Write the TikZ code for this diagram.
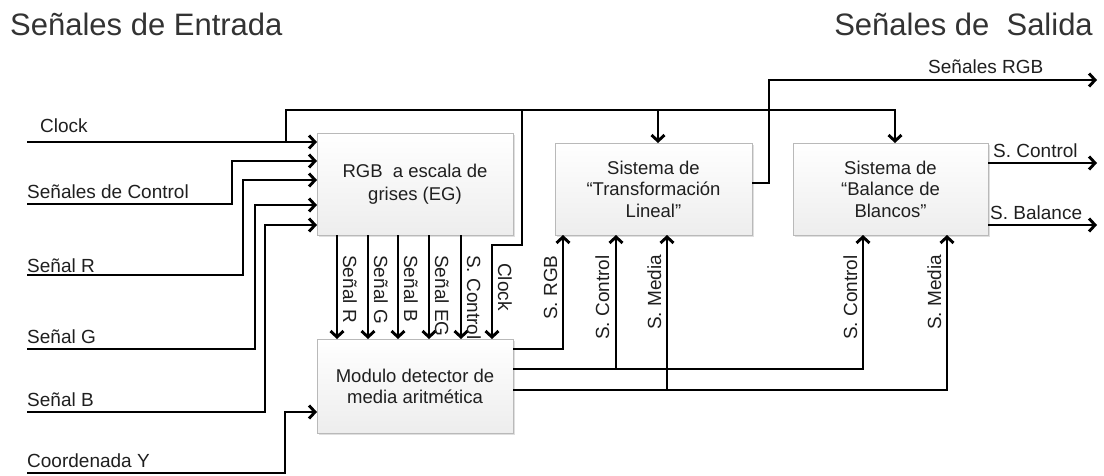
\documentclass[tikz,border=0pt]{standalone}
\usepackage{fontspec}
\setmainfont{Liberation Sans}
\usetikzlibrary{arrows.meta,shadows}
\begin{document}
\begin{tikzpicture}[x=1pt,y=-1pt,
  blk/.style={draw=gray!55, line width=0.8pt, top color=white, bottom color=gray!14,
    inner sep=0pt, outer sep=0pt, align=center, text=black!88,
    drop shadow={opacity=0.25,shadow xshift=1.5pt,shadow yshift=-1.5pt}},
  wire/.style={line width=2.9pt, black},
  arr/.style={wire, -{Straight Barb[length=6pt,width=13pt]}},
  lbl/.style={font=\fontsize{19}{21}\selectfont, text=black!88, inner sep=0pt},
  ttl/.style={font=\fontsize{31}{34}\selectfont, text=black!80, inner sep=0pt}
]
\useasboundingbox (0,0) rectangle (1104,475);

% titles
\node[ttl, anchor=base west] (tin) at (10,35) {Señales de Entrada};
\node[ttl, anchor=base east] (tout) at (1093,35) {Señales de\ \ Salida};

% blocks
\node[blk, minimum width=196pt, minimum height=102pt, font=\fontsize{18.5}{23}\selectfont] (rgb) at (415,184) {RGB\ \ a escala de\\grises (EG)};
\node[blk, minimum width=196pt, minimum height=94pt, font=\fontsize{18.5}{21}\selectfont] (mod) at (415,386) {Modulo detector de\\media aritmética};
\node[blk, minimum width=197pt, minimum height=92pt, font=\fontsize{18.5}{21.5}\selectfont] (tl) at (653.5,189) {Sistema de\\``Transformación\\Lineal''};
\node[blk, minimum width=195pt, minimum height=92pt, font=\fontsize{18.5}{21.5}\selectfont] (bb) at (890.5,189) {Sistema de\\``Balance de\\Blancos''};

% input coordinates
\coordinate (iclk) at (27,142);
\coordinate (ictl) at (27,204);
\coordinate (ir) at (27,275);
\coordinate (ig) at (27,349);
\coordinate (ib) at (27,412);
\coordinate (iy) at (27,473);

% inputs
\draw[arr] (iclk) -- (rgb.west |- iclk);
\draw[arr] (ictl) -| (232,161) -- (rgb.west |- 0,161);
\draw[arr] (ir) -| (243,180) -- (rgb.west |- 0,180);
\draw[arr] (ig) -| (255,205) -- (rgb.west |- 0,205);
\draw[arr] (ib) -| (265,225) -- (rgb.west |- 0,225);
\draw[arr] (iy) -| (285,412) -- (mod.west |- 0,412);

% clock bus
\draw[arr] (286,142) -- (286,110) -- (895,110) -- (bb.north -| 895,0);
\draw[arr] (522,110) -- (522,245) -- (492,245) -- (mod.north -| 492,0);
\draw[arr] (658,110) -- (tl.north -| 658,0);

% rgb -> mod
\foreach \x in {337,368,398,429,461}
  \draw[arr] (\x,0 |- rgb.south) -- (\x,0 |- mod.north);

% labels between rgb and mod
\node[lbl, rotate=-90, anchor=base west] (l1) at (343,255) {Señal R};
\node[lbl, rotate=-90, anchor=base west] (l2) at (374,255) {Señal G};
\node[lbl, rotate=-90, anchor=base west] (l3) at (404,255) {Señal B};
\node[lbl, rotate=-90, anchor=base west] (l4) at (435,255) {Señal EG};
\node[lbl, rotate=-90, anchor=base west] (l5) at (467,255) {S. Control};
\node[lbl, rotate=-90, anchor=base west] (l6) at (498,263) {Clock};

% module outputs
\draw[arr] (mod.east |- 0,349) -| (tl.south -| 563,0);
\draw[arr] (mod.east |- 0,369) -| (bb.south -| 863,0);
\draw[arr] (616,369) -- (tl.south -| 616,0);
\draw[arr] (mod.east |- 0,390) -| (bb.south -| 947,0);
\draw[arr] (667,390) -- (tl.south -| 667,0);

\node[lbl, rotate=90, anchor=base west] (m1) at (557,320) {S. RGB};
\node[lbl, rotate=90, anchor=base west] (m2) at (609,340) {S. Control};
\node[lbl, rotate=90, anchor=base west] (m3) at (661,330) {S. Media};
\node[lbl, rotate=90, anchor=base west] (m4) at (857,340) {S. Control};
\node[lbl, rotate=90, anchor=base west] (m5) at (941,330) {S. Media};

% outputs
\coordinate (orgb) at (1097,80);
\coordinate (octl) at (1097,163);
\coordinate (obal) at (1097,225);
\draw[arr] (tl.east |- 0,183) -| (769,80) -- (orgb);
\draw[arr] (bb.east |- octl) -- (octl);
\draw[arr] (bb.east |- obal) -- (obal);

% input labels
\node[lbl, anchor=base west] (n1) at (40,132) {Clock};
\node[lbl, anchor=base west] (n2) at (27,198) {Señales de Control};
\node[lbl, anchor=base west] (n3) at (27,272) {Señal R};
\node[lbl, anchor=base west] (n4) at (27,343) {Señal G};
\node[lbl, anchor=base west] (n5) at (27,406) {Señal B};
\node[lbl, anchor=base west] (n6) at (27,467) {Coordenada Y};

% output labels
\node[lbl, anchor=base west] (o1) at (928,73) {Señales RGB};
\node[lbl, anchor=base west] (o2) at (993,157) {S. Control};
\node[lbl, anchor=base west] (o3) at (990,219) {S. Balance};
\end{tikzpicture}
\end{document}
